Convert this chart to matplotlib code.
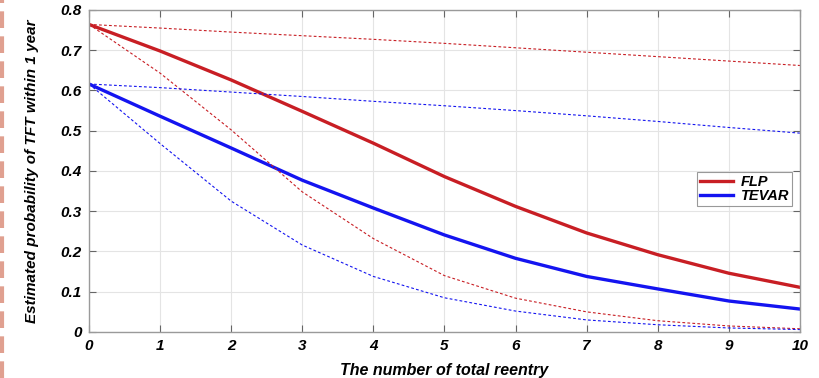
import matplotlib.pyplot as plt
from matplotlib.lines import Line2D
import numpy as np

plt.rcParams['font.family'] = ['Liberation Sans', 'DejaVu Sans']

# number of total reentry
x = [0, 1, 2, 3, 4, 5, 6, 7, 8, 9, 10]

# estimated probability (solid = estimate, dashed = bounds)
flp = [0.764, 0.698, 0.626, 0.548, 0.469, 0.386, 0.312, 0.246, 0.192, 0.146, 0.111]
flp_up = [0.764, 0.755, 0.745, 0.736, 0.727, 0.717, 0.706, 0.695, 0.684, 0.673, 0.662]
flp_lo = [0.764, 0.643, 0.502, 0.348, 0.232, 0.140, 0.084, 0.050, 0.028, 0.015, 0.008]

tevar = [0.616, 0.536, 0.457, 0.377, 0.308, 0.241, 0.183, 0.138, 0.107, 0.077, 0.057]
tevar_up = [0.616, 0.607, 0.596, 0.585, 0.573, 0.562, 0.550, 0.537, 0.523, 0.508, 0.494]
tevar_lo = [0.616, 0.468, 0.325, 0.216, 0.138, 0.085, 0.052, 0.030, 0.018, 0.010, 0.006]

red = '#c81e24'
blue = '#1414f0'

fig = plt.figure(figsize=(8.19, 3.78), dpi=100)
ax = fig.add_axes([0.1087, 0.1217, 0.868, 0.852])

ax.plot(x, flp, color=red, lw=2.4, label='FLP')
ax.plot(x, tevar, color=blue, lw=2.4, label='TEVAR')
for yy, c in [(flp_up, red), (flp_lo, red), (tevar_up, blue), (tevar_lo, blue)]:
    ax.plot(x, yy, color=c, lw=0.8, ls=(0, (2.5, 2)))

ax.set_xlim(0, 10)
ax.set_ylim(0, 0.8)
ax.set_xticks(range(0, 11))
ax.set_yticks(np.arange(0, 0.81, 0.1))
ax.set_yticklabels(['0', '0.1', '0.2', '0.3', '0.4', '0.5', '0.6', '0.7', '0.8'])
ax.grid(True, color='#e4e4e4', lw=0.8)
ax.set_axisbelow(True)
ax.tick_params(direction='in', length=5, top=True, right=True, color='#666666',
               labelsize=11, pad=5)
for lab in ax.get_xticklabels() + ax.get_yticklabels():
    lab.set_fontweight('bold')
    lab.set_fontstyle('italic')
for s in ax.spines.values():
    s.set_color('#9a9a9a')
    s.set_linewidth(1.0)

ax.set_xlabel('The number of total reentry', fontsize=11.5, fontweight='bold',
              fontstyle='italic', labelpad=7)
ax.set_ylabel('Estimated probability of TFT within 1 year', fontsize=11,
              fontweight='bold', fontstyle='italic', labelpad=16)

leg = ax.legend(loc='upper left', bbox_to_anchor=(0.855, 0.497), fontsize=10.5,
                frameon=True, fancybox=False, handlelength=2.3, handletextpad=0.5,
                borderpad=0.2, labelspacing=0.0, borderaxespad=0)
leg.get_frame().set_edgecolor('#808080')
leg.get_frame().set_linewidth(0.8)
for t in leg.get_texts():
    t.set_fontweight('bold')
    t.set_fontstyle('italic')

# salmon dashed strip at left edge of the source image
fig.add_artist(Line2D([0.002, 0.002], [0, 1], transform=fig.transFigure,
                      color='#e0a090', lw=3, ls=(0, (4, 2))))

fig.savefig('out.png', dpi=100)
